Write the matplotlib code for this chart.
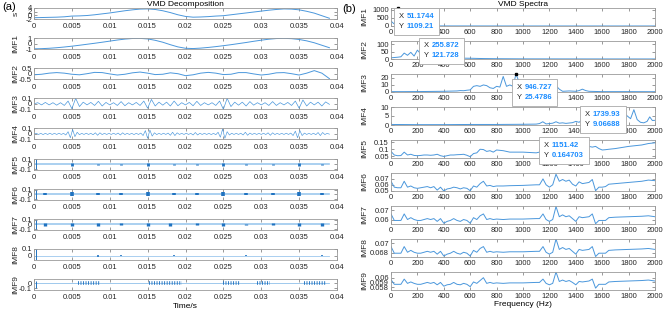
import numpy as np
import matplotlib.pyplot as plt
from matplotlib.offsetbox import AnnotationBbox, TextArea, HPacker, VPacker

plt.rcParams['font.family'] = ['Liberation Sans', 'DejaVu Sans']

# ---------------- time domain (left) ----------------
t_slow = [0.000, 0.001, 0.002, 0.003, 0.004, 0.005, 0.006, 0.007, 0.008, 0.009,
          0.010, 0.011, 0.012, 0.013, 0.014, 0.015, 0.016, 0.017, 0.018, 0.019,
          0.020, 0.021, 0.022, 0.023, 0.024, 0.025, 0.026, 0.027, 0.028, 0.029,
          0.030, 0.031, 0.032, 0.033, 0.034, 0.035, 0.036, 0.037, 0.038, 0.039]
sig_s = [-1.3, -1.2, -1.1, -1.0, -0.8, -0.4, -0.3, -0.1, 0.3, 0.8,
         1.3, 1.9, 2.5, 3.0, 3.4, 3.5, 3.2, 2.5, 1.5, 0.3,
         -0.6, -1.0, -0.9, -0.7, -0.4, -0.2, 0.3, 0.8, 1.3, 1.8,
         2.3, 2.8, 3.2, 3.5, 3.4, 3.0, 2.2, 1.2, -0.2, -1.6]
imf1 = [-0.95, -0.92, -0.85, -0.75, -0.62, -0.47, -0.3, -0.12, 0.06, 0.25,
        0.45, 0.65, 0.82, 0.93, 0.95, 0.85, 0.6, 0.25, -0.2, -0.6,
        -0.85, -0.9, -0.82, -0.7, -0.55, -0.38, -0.2, 0.0, 0.2, 0.42,
        0.62, 0.8, 0.92, 0.95, 0.9, 0.75, 0.5, 0.15, -0.3, -0.75]
imf2 = [-0.1, -0.05, 0.05, 0.1, 0.05, -0.05, -0.1, 0.0, 0.12, 0.1,
        -0.02, -0.12, -0.05, 0.08, 0.15, 0.05, -0.08, -0.05, 0.08, 0.0,
        -0.18, -0.1, 0.05, 0.12, 0.05, -0.08, -0.05, 0.1, 0.1, -0.02,
        -0.12, -0.05, 0.08, 0.1, 0.0, -0.12, 0.05, 0.28, 0.05, -0.45]

t_imf3 = np.linspace(0, 0.039, 79)
imf3 = [0.0, 0.02, -0.02, 0.025, -0.02, 0.02, -0.025, 0.02, -0.03, 0.05,
        -0.09, 0.1, -0.05, 0.03, -0.02, 0.025, -0.03, 0.045, -0.04, 0.025,
        -0.02, 0.02, -0.03, 0.04, -0.035, 0.02, -0.02, 0.025, -0.03, 0.05,
        -0.08, 0.08, -0.04, 0.03, -0.025, 0.03, -0.04, 0.05, -0.035, 0.02,
        -0.02, 0.025, -0.035, 0.045, -0.03, 0.02, -0.02, 0.02, -0.03, 0.05,
        -0.1, 0.1, -0.05, 0.03, -0.025, 0.03, -0.04, 0.04, -0.025, 0.02,
        -0.02, 0.02, -0.03, 0.04, -0.03, 0.02, -0.02, 0.025, -0.03, 0.05,
        -0.08, 0.07, -0.04, 0.03, -0.02, 0.03, -0.04, 0.035, -0.01]

t_imf4 = np.linspace(0, 0.039, 131)
imf4 = [0.0, 0.01, -0.01, 0.01, -0.012, 0.01, -0.01, 0.012, -0.01, 0.01,
        -0.01, 0.012, -0.01, 0.01, -0.02, 0.04, -0.07, 0.08, -0.05, 0.03,
        -0.015, 0.01, -0.01, 0.012, -0.01, 0.01, -0.015, 0.02, -0.025, 0.02,
        -0.012, 0.01, -0.01, 0.01, -0.01, 0.012, -0.01, 0.015, -0.02, 0.02,
        -0.012, 0.01, -0.01, 0.01, -0.012, 0.01, -0.01, 0.015, -0.03, 0.06,
        -0.08, 0.07, -0.04, 0.02, -0.012, 0.01, -0.01, 0.012, -0.01, 0.015,
        -0.025, 0.03, -0.03, 0.02, -0.01, 0.01, -0.01, 0.012, -0.01, 0.01,
        -0.02, 0.025, -0.02, 0.012, -0.01, 0.01, -0.01, 0.01, -0.012, 0.01,
        -0.015, 0.03, -0.06, 0.09, -0.08, 0.04, -0.02, 0.012, -0.01, 0.01,
        -0.01, 0.012, -0.02, 0.03, -0.025, 0.015, -0.01, 0.01, -0.01, 0.01,
        -0.01, 0.012, -0.012, 0.02, -0.025, 0.02, -0.012, 0.01, -0.01, 0.01,
        -0.01, 0.012, -0.01, 0.015, -0.03, 0.05, -0.07, 0.06, -0.03, 0.015,
        -0.01, 0.01, -0.01, 0.012, -0.015, 0.025, -0.03, 0.025, -0.012, 0.01,
        -0.005]

# bursty modes: start transient, burst centres and half-heights
t_end = 0.039
imf5_start = (-0.1, 0.1)
imf5_bt = [0.005, 0.0085, 0.0115, 0.015, 0.0185, 0.0215, 0.025, 0.028, 0.0315, 0.035, 0.038]
imf5_ba = [0.03, 0.015, 0.01, 0.03, 0.015, 0.01, 0.03, 0.015, 0.01, 0.03, 0.015]
imf6_start = (-0.1, 0.1)
imf6_bt = [0.0015, 0.005, 0.0085, 0.0115, 0.015, 0.0185, 0.0215, 0.025, 0.028, 0.0315, 0.035, 0.038]
imf6_ba = [0.02, 0.04, 0.02, 0.02, 0.04, 0.02, 0.02, 0.045, 0.02, 0.02, 0.04, 0.02]
imf7_start = (-0.1, 0.1)
imf7_bt = [0.0015, 0.005, 0.0085, 0.0115, 0.015, 0.018, 0.0215, 0.025, 0.028, 0.0315, 0.035, 0.038]
imf7_ba = [0.025, 0.03, 0.025, 0.02, 0.035, 0.03, 0.02, 0.03, 0.015, 0.02, 0.03, 0.025]
imf8_start = (-0.06, 0.1)
imf8_bt = [0.0085, 0.0115, 0.0185, 0.028, 0.038]
imf8_ba = [0.012, 0.005, 0.005, 0.01, 0.01]
imf9_start = (-0.1, 0.05)
imf9_span0 = [0.0058, 0.0152, 0.025, 0.0295, 0.0356]
imf9_span1 = [0.0087, 0.0195, 0.0272, 0.0312, 0.0385]

# ---------------- spectra (right) ----------------
f1 = [0, 25, 51.1744, 75, 100, 150, 200, 400, 800, 1200, 1600, 2000]
sp1 = [300, 120, 1109.21, 400, 30, 15, 10, 5, 3, 2, 2, 2]
f2 = [0, 25, 50, 75, 100, 125, 150, 175, 200, 225, 255.872, 280, 300, 350,
      400, 500, 600, 700, 800, 1000, 1500, 2000]
sp2 = [8, 10, 12, 15, 40, 25, 45, 20, 60, 35, 121.728, 30, 15, 10,
       8, 6, 5, 3, 2, 1, 0.5, 0.3]
f3 = [0, 100, 200, 300, 400, 500, 525, 550, 575, 600, 625, 650, 675, 700, 725,
      750, 775, 800, 825, 850, 875, 900, 925, 946.727, 975, 1000, 1050, 1100,
      1150, 1200, 1225, 1250, 1275, 1300, 1350, 1400, 1425, 1450, 1475, 1500,
      1600, 1800, 2000]
sp3 = [0.5, 0.5, 0.6, 0.8, 1, 1.5, 2, 1.8, 2.5, 3, 8, 9, 8, 10, 9,
       6, 5, 8, 7, 22, 8, 10, 8, 25.4786, 12, 6, 5, 3,
       4, 3, 6, 9, 4, 1, 1.5, 1, 2, 4, 2, 1,
       0.5, 0.5, 0.4]
f4 = [0, 200, 400, 600, 800, 1000, 1100, 1125, 1150, 1175, 1200, 1225, 1250,
      1275, 1300, 1325, 1350, 1375, 1400, 1425, 1450, 1475, 1500, 1550, 1600,
      1650, 1700, 1739.93, 1760, 1790, 1815, 1840, 1865, 1890, 1915, 1940,
      1960, 1980, 2000]
sp4 = [0.3, 0.2, 0.2, 0.3, 0.3, 0.4, 0.5, 0.8, 1.8, 0.6, 0.8, 1.0, 1.8,
       1.0, 1.2, 0.9, 1.1, 1.3, 2.0, 1.5, 3.0, 7.0, 6.0, 5.0, 6.0,
       7.0, 6.5, 9.06688, 7.0, 5.0, 3.5, 8.5, 3.0, 1.5, 1.2, 2.0,
       4.5, 2.5, 2.6]
f_hi = [0, 25, 50, 75, 100, 125, 150, 175, 200, 225, 250, 275, 300, 325, 350,
        375, 400, 425, 450, 475, 500, 525, 550, 575, 600, 625, 650, 675, 700,
        725, 750, 775, 800, 850, 900, 1000, 1100, 1125, 1151.42, 1175, 1200,
        1225, 1250, 1275, 1300, 1325, 1350, 1375, 1400, 1425, 1450, 1475, 1500,
        1525, 1550, 1575, 1600, 1625, 1650, 1700, 1800, 1900, 1950, 2000]
sp5 = [0.085, 0.06, 0.055, 0.056, 0.08, 0.06, 0.065, 0.057, 0.055, 0.057, 0.06,
       0.06, 0.058, 0.06, 0.065, 0.055, 0.05, 0.055, 0.06, 0.06, 0.062, 0.063,
       0.065, 0.058, 0.048, 0.07, 0.075, 0.1, 0.098, 0.085, 0.09, 0.08, 0.095,
       0.09, 0.08, 0.08, 0.075, 0.08, 0.164703, 0.1, 0.1, 0.11, 0.12, 0.115,
       0.12, 0.11, 0.115, 0.12, 0.115, 0.12, 0.125, 0.13, 0.12, 0.115, 0.12,
       0.105, 0.095, 0.097, 0.1, 0.105, 0.12, 0.13, 0.14, 0.145]
sp6 = [0.066, 0.056, 0.055, 0.055, 0.066, 0.056, 0.058, 0.055, 0.054, 0.055,
       0.056, 0.057, 0.055, 0.057, 0.051, 0.056, 0.0495, 0.053, 0.054, 0.056,
       0.055, 0.053, 0.055, 0.054, 0.05, 0.058, 0.056, 0.062, 0.066, 0.058,
       0.059, 0.057, 0.058, 0.058, 0.0585, 0.059, 0.06, 0.06, 0.07, 0.06,
       0.056, 0.06, 0.078, 0.066, 0.069, 0.066, 0.068, 0.061, 0.058, 0.065,
       0.062, 0.063, 0.064, 0.069, 0.05, 0.056, 0.056, 0.057, 0.061, 0.062,
       0.064, 0.066, 0.068, 0.067]
sp7 = [0.066, 0.059, 0.059, 0.059, 0.066, 0.06, 0.062, 0.06, 0.059, 0.059,
       0.06, 0.061, 0.06, 0.061, 0.058, 0.061, 0.056, 0.058, 0.059, 0.061,
       0.059, 0.058, 0.06, 0.059, 0.056, 0.062, 0.06, 0.064, 0.066, 0.06,
       0.061, 0.06, 0.0605, 0.06, 0.0605, 0.0605, 0.061, 0.061, 0.066, 0.06,
       0.058, 0.06, 0.074, 0.063, 0.065, 0.063, 0.064, 0.061, 0.058, 0.063,
       0.062, 0.0625, 0.063, 0.066, 0.0555, 0.059, 0.059, 0.059, 0.062, 0.0625,
       0.063, 0.0635, 0.064, 0.063]
sp8 = [0.0693, 0.0679, 0.0679, 0.0679, 0.0693, 0.0681, 0.0685, 0.0681, 0.0679, 0.0679,
       0.0681, 0.0683, 0.0681, 0.0683, 0.0677, 0.0683, 0.0673, 0.0677, 0.0679, 0.0683,
       0.0679, 0.0677, 0.0681, 0.0679, 0.0673, 0.0685, 0.0681, 0.0689, 0.0693, 0.0681,
       0.0683, 0.0681, 0.0682, 0.0681, 0.0682, 0.0682, 0.0683, 0.0683, 0.0693, 0.0681,
       0.0677, 0.0681, 0.0709, 0.0687, 0.0691, 0.0687, 0.0689, 0.0683, 0.0677, 0.0687,
       0.0685, 0.0686, 0.0687, 0.0693, 0.0672, 0.0679, 0.0679, 0.0679, 0.0685, 0.0686,
       0.0687, 0.0688, 0.0689, 0.0687]
sp9 = [0.0596, 0.0586, 0.0586, 0.0586, 0.0597, 0.0588, 0.0591, 0.0588, 0.0586, 0.0586,
       0.0588, 0.059, 0.0588, 0.059, 0.0585, 0.059, 0.0582, 0.0585, 0.0586, 0.059,
       0.0586, 0.0585, 0.0588, 0.0586, 0.0581, 0.0591, 0.0588, 0.0594, 0.06, 0.0588,
       0.059, 0.0588, 0.0589, 0.0588, 0.0589, 0.0589, 0.059, 0.059, 0.0597, 0.0588,
       0.0585, 0.0588, 0.0612, 0.0592, 0.0595, 0.0592, 0.0594, 0.059, 0.0585, 0.0592,
       0.0591, 0.0592, 0.0593, 0.0597, 0.0578, 0.0586, 0.0586, 0.0586, 0.0591, 0.0592,
       0.0593, 0.0594, 0.0595, 0.0593]

# data tips: (panel index, x, y, offset px, alignment)
tips = [(0, 51.1744, 1109.21, (1, -5), (0, 1)),
        (1, 255.872, 121.728, (-1, -1.5), (0, 1)),
        (2, 946.727, 25.4786, (1, -10), (0, 1)),
        (3, 1739.93, 9.06688, (0, -2.5), (1, 1)),
        (4, 1151.42, 0.164703, (1, -2), (0, 1))]

LINE = '#4a97dc'
DARK = '#1f72c0'
BOX = '#9a9a9a'
W, H = 665, 322

fig = plt.figure(figsize=(W / 100, H / 100), dpi=100)


def px_axes(x0, y0, x1, y1):
    return fig.add_axes([x0 / W, 1 - y1 / H, (x1 - x0) / W, (y1 - y0) / H])


def style(ax, pad):
    for sp in ax.spines.values():
        sp.set_color(BOX)
        sp.set_linewidth(0.6)
    ax.tick_params(direction='in', length=2, width=0.5, color='#707070',
                   top=True, right=True, labelsize=5.5, labelcolor='#262626',
                   pad=pad)
    ax.tick_params(axis='y', pad=1.5)


# left column
left_names = ['s', 'IMF1', 'IMF2', 'IMF3', 'IMF4', 'IMF5', 'IMF6', 'IMF7', 'IMF8', 'IMF9']
left_ylim = [(-2, 4), (-1, 1), (-0.5, 0.5), (-0.1, 0.1), (-0.1, 0.1), (-0.11, 0.12),
             (-0.11, 0.12), (-0.11, 0.12), (-0.06, 0.1), (-0.13, 0.085)]
left_yticks = [[-2, 0, 2, 4], [-1, 0, 1], [-0.5, 0, 0.5], [-0.1, 0, 0.1], [-0.1, 0, 0.1],
               [-0.1, 0, 0.1], [-0.1, 0, 0.1], [-0.1, 0, 0.1], [0, 0.1], [-0.1, 0]]
xt = [0, 0.005, 0.01, 0.015, 0.02, 0.025, 0.03, 0.035, 0.04]
xtl = ['0', '0.005', '0.01', '0.015', '0.02', '0.025', '0.03', '0.035', '0.04']
bursts = [(imf5_start, imf5_bt, imf5_ba, 2.0), (imf6_start, imf6_bt, imf6_ba, 2.6),
          (imf7_start, imf7_bt, imf7_ba, 2.4), (imf8_start, imf8_bt, imf8_ba, 1.2)]

laxes = []
for k in range(10):
    top = 8 + 30.1 * k
    ax = px_axes(34, top, 337, top + 11)
    style(ax, 3.2)
    ax.set_xlim(0, 0.04)
    ax.set_ylim(*left_ylim[k])
    ax.set_xticks(xt)
    ax.set_xticklabels(xtl)
    ax.set_yticks(left_yticks[k])
    ax.set_yticklabels(['%g' % v for v in left_yticks[k]])
    ax.set_ylabel(left_names[k], fontsize=6, color='#262626')
    ax.yaxis.set_label_coords(-0.048, 0.5)
    laxes.append(ax)

laxes[0].plot(t_slow, sig_s, color=LINE, lw=0.7)
laxes[1].plot(t_slow, imf1, color=LINE, lw=0.7)
laxes[2].plot(t_slow, imf2, color=LINE, lw=0.7)
laxes[3].plot(t_imf3, imf3, color=LINE, lw=0.5)
laxes[4].plot(t_imf4, imf4, color=LINE, lw=0.45)
for k, (st, bt, ba, bw) in enumerate(bursts):
    ax = laxes[5 + k]
    ax.plot([0, t_end], [0, 0], color='#9cc8ee', lw=1.2 if k < 3 else 0.6)
    ax.vlines(0.0002, st[0], st[1], color=DARK, lw=0.7)
    ax.vlines(bt, -np.array(ba), np.array(ba), color=DARK, lw=bw)
ax = laxes[9]
ax.plot([0, t_end], [0, 0], color='#8fc0ea', lw=0.6)
ax.vlines(0.0002, imf9_start[0], imf9_start[1], color=DARK, lw=0.7)
ax.hlines(np.zeros(len(imf9_span0)), imf9_span0, imf9_span1, color=DARK, lw=2.6,
          linestyles=(0, (0.25, 0.45)))
laxes[0].set_title('VMD Decomposition', fontsize=6, pad=1.5)
laxes[9].set_xlabel('Time/s', fontsize=6, labelpad=1)

# right column
right_names = ['IMF%d' % (k + 1) for k in range(9)]
freqs = [f1, f2, f3, f4, f_hi, f_hi, f_hi, f_hi, f_hi]
spectra = [sp1, sp2, sp3, sp4, sp5, sp6, sp7, sp8, sp9]
right_ylim = [(0, 1109.21), (0, 121.728), (0, 25.4786), (0, 10), (0.039, 0.1647),
              (0.0495, 0.08), (0.0552, 0.0745), (0.0671, 0.0709), (0.0574, 0.0612)]
right_yticks = [[0, 500, 1000], [0, 50, 100], [0, 10, 20], [0, 5, 10],
                [0.05, 0.1, 0.15], [0.05, 0.06, 0.07], [0.06, 0.07],
                [0.068, 0.07], [0.058, 0.059, 0.06]]
raxes = []
for k in range(9):
    top = 8 + 33 * k
    ax = px_axes(391, top, 655, top + 18)
    style(ax, 2.2)
    ax.plot(freqs[k], spectra[k], color=LINE, lw=0.7)
    ax.set_xlim(0, 2000)
    ax.set_ylim(*right_ylim[k])
    ax.set_xticks(range(0, 2001, 200))
    ax.set_yticks(right_yticks[k])
    ax.set_yticklabels(['%g' % v for v in right_yticks[k]])
    ax.set_ylabel(right_names[k], fontsize=6, color='#262626')
    ax.yaxis.set_label_coords(-0.087, 0.5)
    raxes.append(ax)
raxes[0].set_title('VMD Spectra', fontsize=6, pad=1.5)
raxes[8].set_xlabel('Frequency (Hz)', fontsize=6, labelpad=1)

for k, x, y, off, align in tips:
    ax = raxes[k]
    ax.plot([x], [y], 's', color='k', ms=2, clip_on=False, zorder=5)
    rows = []
    for lab, val in (('X', x), ('Y', y)):
        rows.append(HPacker(children=[
            TextArea(lab, textprops=dict(size=5.5, color='#262626')),
            TextArea('%g' % val, textprops=dict(size=5.5, color='#1a8cff',
                                                weight='bold'))],
            pad=0, sep=2, align='baseline'))
    box = VPacker(children=rows, pad=0, sep=2, align='left')
    ab = AnnotationBbox(box, (x, y), xycoords=ax.transData,
                        xybox=(off[0] / 1.389, off[1] / 1.389),
                        boxcoords='offset points', box_alignment=align,
                        pad=0.35, frameon=True, annotation_clip=False,
                        bboxprops=dict(boxstyle='square,pad=0.35', fc='white',
                                       ec='#a8a8a8', lw=0.6))
    ab.set_zorder(20)
    fig.add_artist(ab)

fig.text(2 / W, 1 - 7 / H, '(a)', fontsize=8, va='center')
fig.text(342 / W, 1 - 9 / H, '(b)', fontsize=8, va='center')

fig.savefig('out.png', dpi=100)
